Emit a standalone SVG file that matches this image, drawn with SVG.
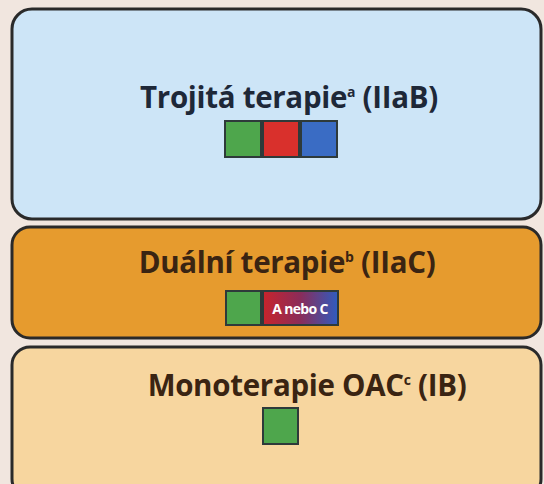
<svg xmlns="http://www.w3.org/2000/svg" width="544" height="484" viewBox="0 0 544 484">
<defs>
<style>
.box{stroke:#2a2a2a;stroke-width:3}
.t{font-family:"Open Sans","Liberation Sans",sans-serif;font-weight:700;font-size:29.5px;text-anchor:middle;letter-spacing:-0.3px}
.sup{font-size:14px}
.sq{stroke:#2e3a3a;stroke-width:2}
</style>
<linearGradient id="rb" x1="0" y1="0" x2="1" y2="0">
<stop offset="0" stop-color="#c8242c"/>
<stop offset="0.5" stop-color="#8a2c5a"/>
<stop offset="1" stop-color="#2f5cc0"/>
</linearGradient>
</defs>
<rect width="544" height="484" fill="#f1e6df"/>
<g id="triple">
<rect class="box" x="12" y="9" width="529" height="210" rx="20" fill="#cde5f7"/>
<text class="t" x="289" y="108" fill="#1e2838">Trojitá terapie<tspan class="sup" dy="-11">a</tspan><tspan dy="11"> (IIaB)</tspan></text>
<rect class="sq" x="225" y="121" width="36" height="36" fill="#4ea64c"/>
<rect class="sq" x="263" y="121" width="36" height="36" fill="#d9302c"/>
<rect class="sq" x="301" y="121" width="36" height="36" fill="#3a6cc4"/>
</g>
<g id="dual">
<rect class="box" x="12" y="227" width="529" height="111" rx="18" fill="#e69b2e"/>
<text class="t" x="287" y="273" fill="#3a2412">Duální terapie<tspan class="sup" dy="-11">b</tspan><tspan dy="11"> (IIaC)</tspan></text>
<rect class="sq" x="226" y="291" width="35" height="34" fill="#4ea64c"/>
<rect class="sq" x="263" y="291" width="75" height="34" fill="url(#rb)"/>
<text x="300" y="314" font-family="'Open Sans','Liberation Sans',sans-serif" font-weight="700" font-size="14" fill="#ffffff" text-anchor="middle" letter-spacing="-0.7">A nebo C</text>
</g>
<g id="mono">
<rect class="box" x="12" y="347" width="529" height="150" rx="18" fill="#f7d69f"/>
<text class="t" x="307" y="396" fill="#3a2412">Monoterapie OAC<tspan class="sup" dy="-11">c</tspan><tspan dy="11"> (IB)</tspan></text>
<rect class="sq" x="263" y="408" width="35" height="36" fill="#4ea64c"/>
</g>
</svg>
